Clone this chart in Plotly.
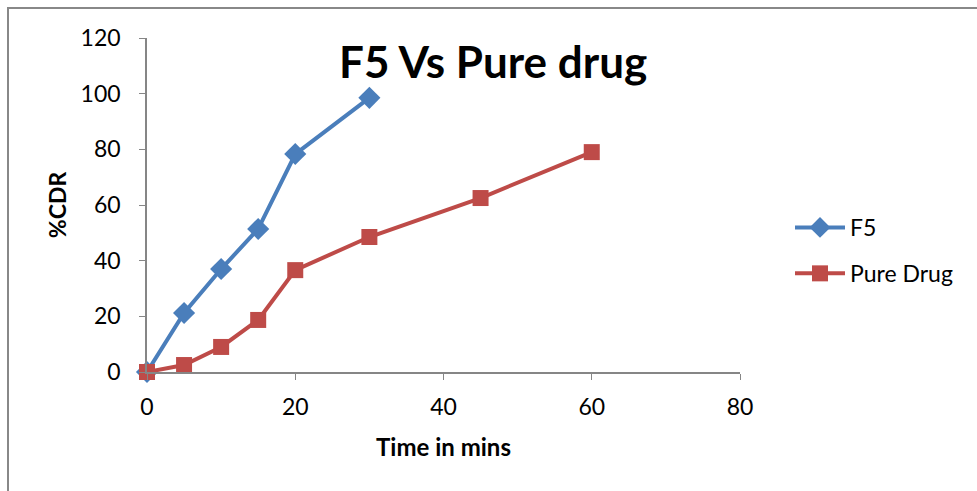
import plotly.graph_objects as go

f5_time = [0, 5, 10, 15, 20, 30]
f5_cdr = [0, 21.2, 37, 51.4, 78.3, 98.5]
pure_time = [0, 5, 10, 15, 20, 30, 45, 60]
pure_cdr = [0, 2.5, 9, 18.7, 36.6, 48.5, 62.5, 79]

x_ticks = [0, 20, 40, 60, 80]
y_ticks = [0, 20, 40, 60, 80, 100, 120]

W, H = 977, 491
L, R, T, B = 147, 237, 38, 119
pw, ph = W - L - R, H - T - B

FONT = "Lato"

fig = go.Figure()
fig.add_trace(go.Scatter(
    x=f5_time, y=f5_cdr, name="F5", mode="lines+markers", legendgroup="f5",
    line=dict(color="#4A7EBB", width=4),
    marker=dict(symbol="diamond", size=17, color="#4A7EBB"),
    cliponaxis=False,
))
fig.add_trace(go.Scatter(
    x=pure_time, y=pure_cdr, name="Pure Drug", mode="lines+markers", legendgroup="pure",
    line=dict(color="#BE4B48", width=4),
    marker=dict(symbol="square", size=16, color="#BE4B48"),
    cliponaxis=False,
))

def px2x(p):
    return (p - L) / pw

def px2y(p):
    return (H - B - p) / ph

fig.add_shape(type="rect", xref="paper", yref="paper",
              x0=px2x(8), x1=px2x(1000), y0=px2y(520), y1=px2y(8),
              line=dict(color="#888888", width=2), fillcolor="rgba(0,0,0,0)", layer="below")

fig.add_annotation(text="<b>F5 Vs Pure drug</b>", xref="paper", yref="paper",
                   x=px2x(493), y=px2y(61), showarrow=False,
                   font=dict(family=FONT, size=44, color="black"),
                   xanchor="center", yanchor="middle")

fig.update_layout(
    width=W, height=H,
    margin=dict(l=L, r=R, t=T, b=B),
    paper_bgcolor="white", plot_bgcolor="white",
    font=dict(family=FONT, color="black"),
    showlegend=True,
    legend=dict(x=px2x(790), y=px2y(206), xanchor="left", yanchor="top",
                font=dict(family=FONT, size=23, color="black"),
                tracegroupgap=13, itemwidth=50, bgcolor="rgba(0,0,0,0)"),
    xaxis=dict(range=[0, 80], tickvals=x_ticks, ticks="outside", ticklen=6,
               tickcolor="#868686", showline=True, linecolor="#868686", linewidth=1.5,
               showgrid=False, zeroline=False, tickfont=dict(size=23, family=FONT),
               ticklabelstandoff=8,
               title=dict(text="<b>Time in mins</b>", font=dict(size=24, family=FONT), standoff=20)),
    yaxis=dict(range=[0, 120], tickvals=y_ticks, ticks="outside", ticklen=6,
               tickcolor="#868686", showline=True, linecolor="#868686", linewidth=1.5,
               showgrid=False, zeroline=False, tickfont=dict(size=23, family=FONT),
               ticklabelstandoff=14,
               title=dict(text="<b>%CDR</b>", font=dict(size=23, family=FONT), standoff=8)),
)

fig.write_html("out.html")
